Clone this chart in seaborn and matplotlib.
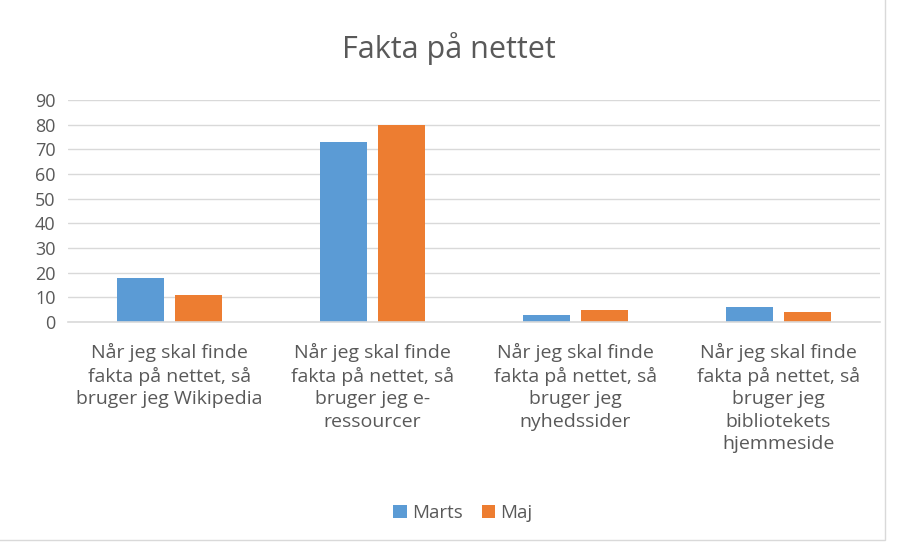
import pandas as pd
import matplotlib.pyplot as plt
import seaborn as sns
from matplotlib.patches import Rectangle

# Data
categories = [
    "Når jeg skal finde\nfakta på nettet, så\nbruger jeg Wikipedia",
    "Når jeg skal finde\nfakta på nettet, så\nbruger jeg e-\nressourcer",
    "Når jeg skal finde\nfakta på nettet, så\nbruger jeg\nnyhedssider",
    "Når jeg skal finde\nfakta på nettet, så\nbruger jeg\nbibliotekets\nhjemmeside",
]
marts = [18, 73, 3, 6]
maj = [11, 80, 5, 4]
series = ["Marts", "Maj"]
colors = ["#5b9bd5", "#ed7d31"]

df = pd.DataFrame({
    "kategori": categories * 2,
    "periode": ["Marts"] * 4 + ["Maj"] * 4,
    "antal": marts + maj,
})

sns.set_style("white")
plt.rcParams['font.family'] = ['Open Sans', 'DejaVu Sans']

fig = plt.figure(figsize=(8.97, 5.42), dpi=100)
W, H = 897, 542
ax = fig.add_axes([68 / W, 1 - 322 / H, (880 - 68) / W, (322 - 100) / H])

sns.barplot(data=df, x="kategori", y="antal", hue="periode", hue_order=series,
            palette=colors, saturation=1, width=0.57, gap=0.2, linewidth=0,
            ax=ax, legend=True)

ax.set_ylim(0, 90)
ax.set_yticks(range(0, 91, 10))
ax.set_xlim(-0.5, 3.5)
ax.yaxis.grid(True, color="#d9d9d9", linewidth=1)
ax.set_axisbelow(True)
for side in ["top", "right", "left"]:
    ax.spines[side].set_visible(False)
ax.spines["bottom"].set_color("#d9d9d9")
ax.spines["bottom"].set_linewidth(1.2)
ax.tick_params(axis="both", length=0, colors="#595959", labelsize=13)
ax.tick_params(axis="y", pad=9)
ax.tick_params(axis="x", pad=15)
for lbl in ax.get_xticklabels():
    lbl.set_linespacing(1.32)
    lbl.set_fontsize(14)
    lbl.set_verticalalignment("top")
ax.set_xlabel("")
ax.set_ylabel("")

fig.text(0.5, 1 - 49 / H, "Fakta på nettet", ha="center", va="center",
         fontsize=22, color="#595959")

ax.legend(loc="center", bbox_to_anchor=(463 / W, 1 - 513 / H),
          bbox_transform=fig.transFigure, ncol=2, frameon=False,
          fontsize=13.5, handlelength=0.7, handleheight=0.7,
          handletextpad=0.3, columnspacing=1.0, labelcolor="#595959")

fig.patches.append(Rectangle((-0.01, 1 - 540 / H), 894 / W, 1.02,
                             transform=fig.transFigure, fill=False,
                             edgecolor="#d9d9d9", linewidth=1))

fig.savefig("out.png", dpi=100)
